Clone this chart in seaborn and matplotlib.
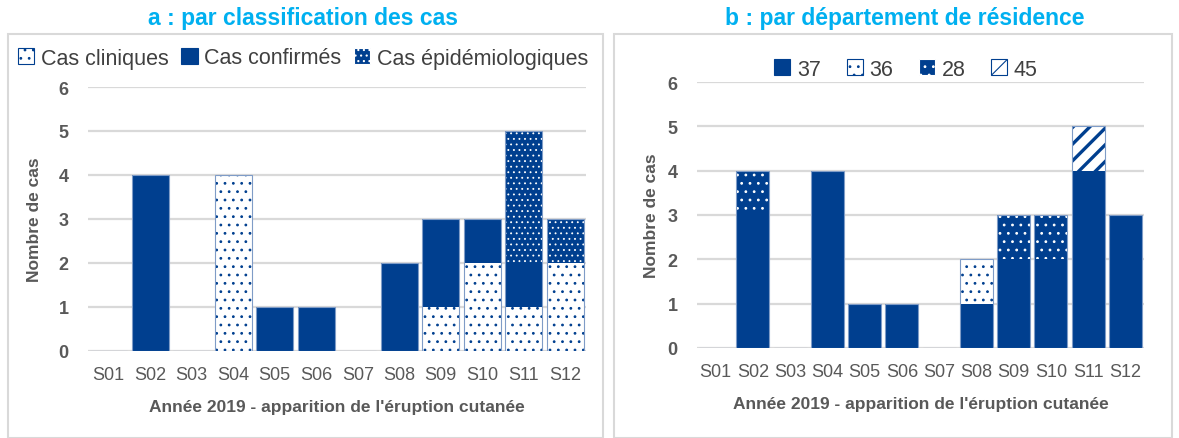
import numpy as np
import pandas as pd
import matplotlib
matplotlib.use('Agg')
import matplotlib.pyplot as plt
import seaborn as sns
from matplotlib.patches import Patch, Rectangle

# ---- data ----
weeks = ['S01', 'S02', 'S03', 'S04', 'S05', 'S06', 'S07', 'S08', 'S09', 'S10', 'S11', 'S12']

# panel a : par classification
cas_cliniques = [0, 0, 0, 4, 0, 0, 0, 0, 1, 2, 1, 2]
cas_confirmes = [0, 4, 0, 0, 1, 1, 0, 2, 2, 1, 1, 0]
cas_epidemio = [0, 0, 0, 0, 0, 0, 0, 0, 0, 0, 3, 1]

# panel b : par departement
dep_37 = [0, 3, 0, 4, 1, 1, 0, 1, 2, 2, 4, 3]
dep_36 = [0, 0, 0, 0, 0, 0, 0, 1, 0, 0, 0, 0]
dep_28 = [0, 1, 0, 0, 0, 0, 0, 0, 1, 1, 0, 0]
dep_45 = [0, 0, 0, 0, 0, 0, 0, 0, 0, 0, 1, 0]

yticks = [0, 1, 2, 3, 4, 5, 6]

BLUE = '#003F8F'
CYAN = '#00B0F0'
GREY = '#595959'
GRID = '#D9D9D9'

sns.set_theme(style='white')
plt.rcParams['font.family'] = ['Liberation Sans', 'DejaVu Sans']
plt.rcParams['hatch.linewidth'] = 0.8

# style per layer: (face, hatch colour, hatch, hatch linewidth)
styles_a = {
    'Cas cliniques': ('white', BLUE, '..', 0.8),
    'Cas confirmés': (BLUE, BLUE, None, 0.8),
    'Cas épidémiologiques': (BLUE, 'white', '...', 0.6),
}
styles_b = {
    '37': (BLUE, BLUE, None, 0.8),
    '36': ('white', BLUE, '..', 0.8),
    '28': (BLUE, 'white', '..', 0.8),
    '45': ('white', BLUE, '//', 2.4),
}

fig = plt.figure(figsize=(11.79, 4.39), dpi=100)
W, H = 1179, 439

# panel frames
fig.patches.append(Rectangle((8 / W, 0), (603 - 8) / W, 1 - 35 / H,
                             transform=fig.transFigure, fill=False,
                             edgecolor=GRID, lw=1.5))
fig.patches.append(Rectangle((614 / W, 0), (1172 - 614) / W, 1 - 35 / H,
                             transform=fig.transFigure, fill=False,
                             edgecolor=GRID, lw=1.5))

ax_a = fig.add_axes([88 / W, 1 - 352 / H, (586 - 88) / W, (352 - 88) / H])
ax_b = fig.add_axes([697 / W, 1 - 349 / H, (1144 - 697) / W, (349 - 83) / H])


def stacked(ax, layers, styles, width):
    # draw cumulative totals from top layer down so each overlays the next
    names = list(layers.keys())
    cum = np.cumsum([layers[n] for n in names], axis=0)
    for i in range(len(names) - 1, -1, -1):
        face, hcol, hatch, hlw = styles[names[i]]
        df = pd.DataFrame({'week': weeks, 'n': cum[i]})
        n_before = len(ax.patches)
        with plt.rc_context({'hatch.linewidth': hlw}):
            sns.barplot(data=df, x='week', y='n', ax=ax, color=face,
                        saturation=1, width=width, hatch=hatch,
                        edgecolor=hcol, linewidth=0, zorder=2)
        for p in ax.patches[n_before:]:
            if hasattr(p, 'set_hatch_linewidth'):
                p.set_hatch_linewidth(hlw)
    # light outline around each bar
    df = pd.DataFrame({'week': weeks, 'n': cum[-1]})
    sns.barplot(data=df, x='week', y='n', ax=ax, fill=False,
                width=width, edgecolor='#7F9CC7', linewidth=0.8, zorder=3)


def style_axes(ax, ylab_pad):
    ax.set_ylim(0, 6)
    ax.set_xlim(-0.5, 11.5)
    ax.set_yticks(yticks)
    ax.yaxis.grid(True, color=GRID, lw=1.6, zorder=0)
    ax.set_axisbelow(True)
    sns.despine(ax=ax, left=True, bottom=True)
    ax.tick_params(axis='both', length=0)
    ax.tick_params(axis='x', pad=11, labelsize=13, labelcolor=GREY)
    ax.tick_params(axis='y', pad=14, labelsize=13, labelcolor=GREY)
    for t in ax.get_yticklabels():
        t.set_fontweight('bold')
    ax.set_xlabel("Année 2019 - apparition de l'éruption cutanée",
                  fontsize=12.5, fontweight='bold', color=GREY, labelpad=11)
    ax.set_ylabel('Nombre de cas', fontsize=12.5, fontweight='bold',
                  color=GREY, labelpad=ylab_pad)


stacked(ax_a, {'Cas cliniques': cas_cliniques,
               'Cas confirmés': cas_confirmes,
               'Cas épidémiologiques': cas_epidemio}, styles_a, 0.89)
stacked(ax_b, {'37': dep_37, '36': dep_36, '28': dep_28, '45': dep_45},
        styles_b, 0.88)

style_axes(ax_a, 12)
style_axes(ax_b, 6)


def handles(styles):
    out = []
    for name, (face, hcol, hatch, hlw) in styles.items():
        with plt.rc_context({'hatch.linewidth': min(hlw, 2.0)}):
            h = Patch(facecolor=face, edgecolor=hcol if hatch else BLUE,
                      hatch=hatch, lw=0.8, label=name)
        out.append(h)
    return out


fig.legend(handles=handles(styles_a), loc='center',
           bbox_to_anchor=(303 / W, 1 - 59 / H), ncol=3, frameon=False,
           fontsize=15.5, labelcolor='#404040', handlelength=0.75,
           handleheight=0.75, handletextpad=0.3, columnspacing=0.6)
fig.legend(handles=handles(styles_b), loc='center',
           bbox_to_anchor=(906 / W, 1 - 70 / H), ncol=4, frameon=False,
           fontsize=15.5, labelcolor='#404040', handlelength=0.75,
           handleheight=0.75, handletextpad=0.3, columnspacing=1.2)

fig.text(303 / W, 1 - 18 / H, 'a : par classification des cas', ha='center',
         va='center', fontsize=16.5, fontweight='bold', color=CYAN)
fig.text(905 / W, 1 - 18 / H, 'b : par département de résidence', ha='center',
         va='center', fontsize=16.5, fontweight='bold', color=CYAN)

fig.savefig('out.png', dpi=100)
